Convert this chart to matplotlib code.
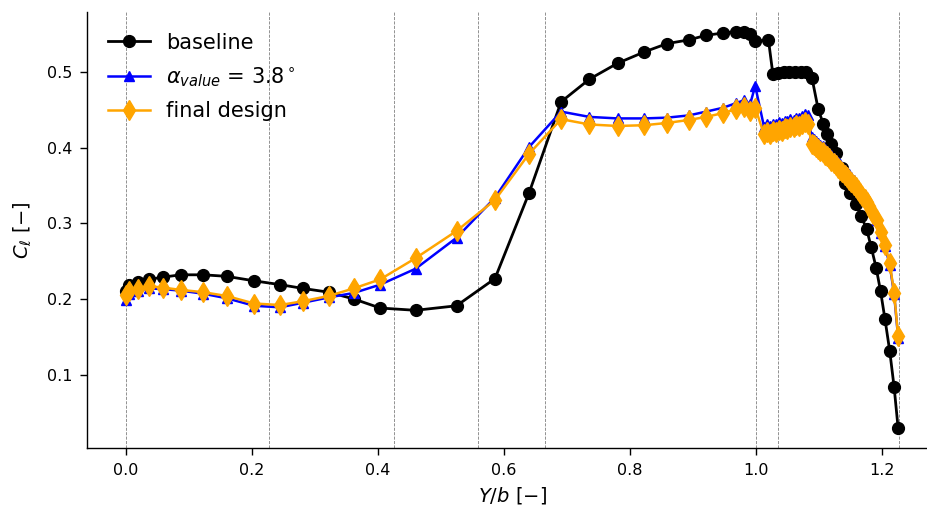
import matplotlib
matplotlib.use("Agg")
import matplotlib.pyplot as plt

# ---------------- data ----------------
# baseline
base_x = [0.000, 0.006, 0.019, 0.037, 0.060, 0.0875, 0.123, 0.160, 0.204, 0.245,
          0.281, 0.322, 0.362, 0.404, 0.460, 0.525, 0.586, 0.640, 0.691, 0.736,
          0.7805, 0.823, 0.859, 0.894, 0.921, 0.9475, 0.968, 0.981, 0.991, 0.998,
          1.020, 1.027, 1.035, 1.044, 1.053, 1.062, 1.071, 1.080, 1.089, 1.099,
          1.107, 1.113, 1.120, 1.128, 1.136, 1.142, 1.150, 1.159, 1.167, 1.176,
          1.183, 1.191, 1.198, 1.205, 1.2125, 1.2195, 1.2258]
base_cl = [0.211, 0.218, 0.222, 0.226, 0.229, 0.232, 0.232, 0.230, 0.224, 0.219,
           0.214, 0.209, 0.200, 0.188, 0.185, 0.191, 0.227, 0.340, 0.461, 0.491,
           0.512, 0.527, 0.538, 0.543, 0.549, 0.552, 0.554, 0.554, 0.551, 0.541,
           0.543, 0.498, 0.499, 0.500, 0.500, 0.501, 0.501, 0.500, 0.493, 0.451,
           0.432, 0.418, 0.405, 0.393, 0.373, 0.354, 0.340, 0.326, 0.310, 0.292,
           0.269, 0.241, 0.210, 0.173, 0.131, 0.083, 0.029]

# alpha = 3.8 deg and final design share stations
des_x = [0.000, 0.006, 0.019, 0.037, 0.060, 0.0875, 0.123, 0.160, 0.204, 0.245,
         0.281, 0.322, 0.362, 0.404, 0.460, 0.525, 0.586, 0.640, 0.691, 0.736,
         0.7805, 0.823, 0.859, 0.894, 0.921, 0.9475, 0.968, 0.981, 0.991, 0.999,
         1.013, 1.018, 1.022, 1.027, 1.032, 1.036, 1.041, 1.046, 1.050, 1.055,
         1.060, 1.064, 1.069, 1.074, 1.078, 1.083,
         1.0885, 1.0920, 1.0955, 1.0990, 1.1025, 1.1060, 1.1095, 1.1130, 1.1165, 1.1200,
         1.1235, 1.1270, 1.1305, 1.1340, 1.1375, 1.1410, 1.1445, 1.1480, 1.1515, 1.1550,
         1.1585, 1.1620, 1.1655, 1.1690, 1.1725, 1.1760, 1.1795, 1.1830, 1.1865,
         1.1915, 1.198, 1.205, 1.2125, 1.2195, 1.2258]
alpha_cl = [0.199, 0.207, 0.211, 0.214, 0.213, 0.211, 0.207, 0.201, 0.191, 0.189,
            0.195, 0.202, 0.208, 0.219, 0.240, 0.281, 0.334, 0.401, 0.448, 0.441,
            0.439, 0.439, 0.440, 0.443, 0.448, 0.453, 0.459, 0.463, 0.458, 0.482,
            0.428, 0.431, 0.429, 0.432, 0.431, 0.434, 0.433, 0.436, 0.435, 0.438,
            0.437, 0.440, 0.439, 0.442, 0.445, 0.443,
            0.414, 0.412, 0.409, 0.407, 0.404, 0.402, 0.399, 0.396, 0.393, 0.390,
            0.387, 0.384, 0.381, 0.378, 0.375, 0.371, 0.368, 0.365, 0.361, 0.357,
            0.354, 0.350, 0.346, 0.341, 0.337, 0.333, 0.328, 0.322, 0.316,
            0.305, 0.287, 0.270, 0.245, 0.206, 0.149]
final_cl = [0.205, 0.211, 0.213, 0.217, 0.215, 0.212, 0.209, 0.204, 0.194, 0.192,
            0.197, 0.204, 0.214, 0.226, 0.254, 0.290, 0.331, 0.392, 0.438, 0.431,
            0.429, 0.430, 0.433, 0.437, 0.441, 0.446, 0.451, 0.454, 0.449, 0.453,
            0.418, 0.421, 0.419, 0.422, 0.421, 0.424, 0.423, 0.426, 0.425, 0.428,
            0.427, 0.430, 0.429, 0.432, 0.434, 0.431,
            0.405, 0.404, 0.401, 0.399, 0.396, 0.394, 0.391, 0.389, 0.386, 0.383,
            0.380, 0.377, 0.374, 0.371, 0.368, 0.364, 0.361, 0.358, 0.355, 0.351,
            0.348, 0.344, 0.340, 0.336, 0.332, 0.328, 0.323, 0.318, 0.312,
            0.304, 0.289, 0.272, 0.247, 0.208, 0.151]

# section boundaries (vertical dashed lines)
sections = [0.0, 0.227, 0.4255, 0.5594, 0.6662, 1.0, 1.0355, 1.2277]

x_ticks = [0.0, 0.2, 0.4, 0.6, 0.8, 1.0, 1.2]
y_ticks = [0.1, 0.2, 0.3, 0.4, 0.5]

# ---------------- plot ----------------
fig = plt.figure(figsize=(9.27, 5.11), dpi=100)
ax = fig.add_axes([87 / 927, 63 / 511, (938 - 87) / 927, (448 - 11.7) / 511])

for s in sections:
    ax.axvline(s, color="gray", linestyle="--", linewidth=0.6, zorder=0)

ax.plot(base_x, base_cl, "-o", color="black", markersize=8.5, linewidth=2.0,
        label="baseline")
ax.plot(des_x, alpha_cl, "-^", color="blue", markersize=7, linewidth=1.8,
        label=r"$\alpha_{value}$ = 3.8$^\circ$")
ax.plot(des_x, final_cl, "-d", color="orange", markersize=10, linewidth=1.8,
        label="final design")

ax.set_xticks(x_ticks)
ax.set_yticks(y_ticks)
ax.tick_params(labelsize=11.5, length=4.8, width=1.0, pad=6)
ax.set_xlabel(r"$Y/b$ $[-]$", fontsize=14, labelpad=5)
ax.set_ylabel(r"$C_\ell$ $[-]$", fontsize=14, labelpad=9)
for sp in ("left", "bottom"):
    ax.spines[sp].set_linewidth(1.0)
ax.spines["top"].set_visible(False)
ax.spines["right"].set_visible(False)
ax.legend(loc="upper left", frameon=False, fontsize=15, labelspacing=0.6,
          borderaxespad=0.6)

fig.savefig("out.png", dpi=100)
